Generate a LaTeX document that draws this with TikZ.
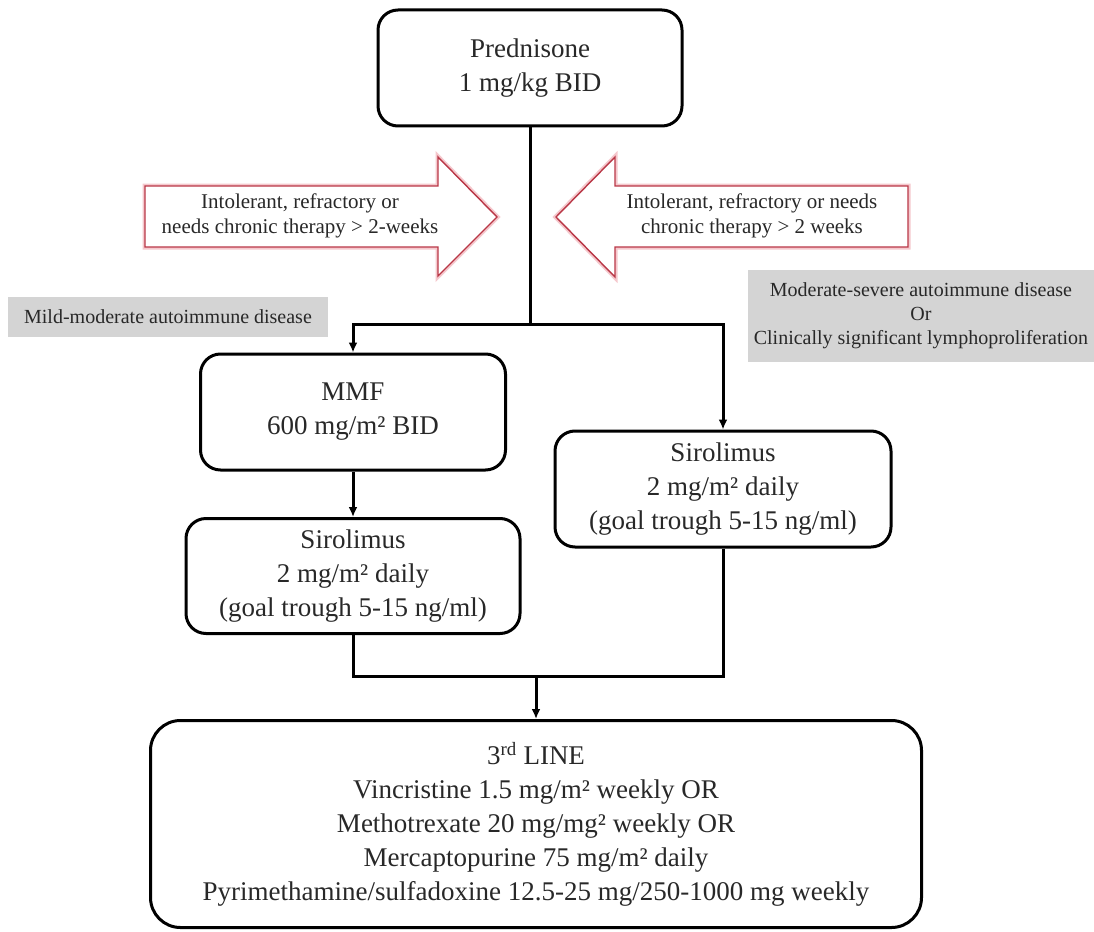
\documentclass[tikz,border=0pt]{standalone}
\usepackage{fontspec}
\setmainfont{Liberation Serif}
\usepackage{tikz}
\usetikzlibrary{arrows.meta,positioning,calc}
\definecolor{boxtext}{RGB}{40, 40, 40}
\definecolor{greybg}{RGB}{212, 212, 212}
\definecolor{arrowred}{RGB}{185, 55, 70}
\definecolor{arrowglow}{RGB}{245, 200, 205}

\begin{document}
\begin{tikzpicture}[x=1pt, y=-1pt,
  drug/.style={draw, rounded corners=20pt, line width=3pt, align=center, text=boxtext, font=\fontsize{27}{34}\selectfont, inner sep=0pt},
  grade/.style={fill=greybg, align=center, text=boxtext, font=\fontsize{20}{24}\selectfont, inner sep=0pt},
  cond/.style={align=center, text=boxtext, font=\fontsize{21}{25}\selectfont},
  blockarrow/.style={draw=arrowred, line width=1.4pt, fill=white, preaction={draw=arrowglow, line width=5pt}},
  arr/.style={-{Latex[length=10pt, width=9pt]}, line width=3pt},
  link/.style={line width=3pt}
]
\useasboundingbox (0,0) rectangle (1094,931);

% Block arrows
\draw[blockarrow] (145,186) -- (438,186) -- (438,157) -- (497,217) -- (438,276) -- (438,247) -- (145,247) -- cycle;
\draw[blockarrow] (908,186) -- (615,186) -- (615,157) -- (556,217) -- (615,277) -- (615,247) -- (908,247) -- cycle;
\node[cond] (intolL) at (300,216) {Intolerant, refractory or\\needs chronic therapy > 2-weeks};
\node[cond] (intolR) at (752,216) {Intolerant, refractory or needs\\chronic therapy > 2 weeks};

% Disease grades
\node[grade, minimum width=320pt, minimum height=40pt] (mild) at (168,317) {Mild-moderate  autoimmune disease};
\node[grade, minimum width=346pt, minimum height=92pt] (severe) at (921,316) {Moderate-severe  autoimmune disease\\Or\\Clinically significant  lymphoproliferation};

% Treatment boxes
\node[drug, minimum width=304pt, minimum height=116pt] (pred) at (530,68) {Prednisone\\1 mg/kg BID};
\node[drug, minimum width=305pt, minimum height=116pt] (mmf) at (353,412) {MMF\\600 mg/m² BID};
\node[drug, minimum width=334pt, minimum height=115pt] (siroL) at (353,576) {Sirolimus\\2 mg/m² daily\\(goal trough 5-15 ng/ml)};
\node[drug, minimum width=336pt, minimum height=116pt] (siroR) at (723,489) {Sirolimus\\2 mg/m² daily\\(goal trough 5-15 ng/ml)};
\node[drug, rounded corners=30pt, minimum width=771pt, minimum height=207pt] (third) at (536,824) {3\textsuperscript{rd} LINE\\Vincristine 1.5 mg/m² weekly OR\\Methotrexate 20 mg/mg² weekly OR\\Mercaptopurine 75 mg/m² daily\\Pyrimethamine/sulfadoxine 12.5-25 mg/250-1000 mg weekly};

% Connections
\coordinate (split) at (530,324);
\coordinate (join) at (536,676);
\draw[link] (pred.south) -- (split);
\draw[arr] (split) -| (mmf.north);
\draw[arr] (split) -| (siroR.north);
\draw[arr] (mmf) -- (siroL);
\draw[link] (siroL.south) |- (join);
\draw[link] (siroR.south) |- (join);
\draw[arr] (join) -- (third.north);

\end{tikzpicture}
\end{document}
